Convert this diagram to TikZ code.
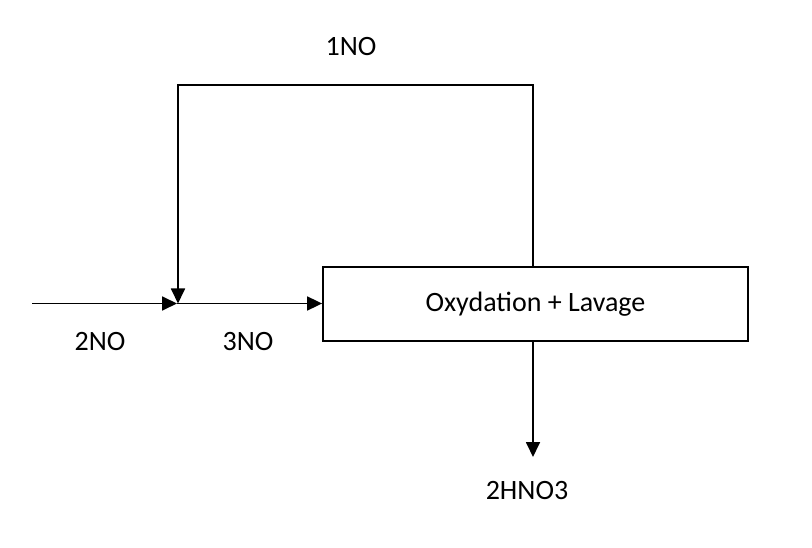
\documentclass[tikz,border=0pt]{standalone}
\usepackage{fontspec}
\setmainfont{Carlito}
\usetikzlibrary{arrows.meta}
\begin{document}
\begin{tikzpicture}[x=1pt,y=-1pt,
  flow/.style={line width=1.8pt,-{Triangle[length=15pt,width=14pt]}},
  lbl/.style={font=\fontsize{28}{32}\selectfont},
  box/.style={draw,line width=1.8pt,minimum width=425pt,minimum height=74pt,inner sep=0pt,font=\fontsize{28}{32}\selectfont}]
\useasboundingbox (0,0) rectangle (812,548);
\node[box] (ox) at (535.5,304) {Oxydation + Lavage};
\coordinate (in) at (32,303.5);
\coordinate (j) at (177,303.5);
\coordinate (tr) at (533,85);
\coordinate (tl) at (178,85);
\coordinate (out) at (533,457);
\draw[flow] (in) -- (j);
\draw[flow] (j) -- (ox.west |- j);
\draw[flow] (ox.north -| tr) -- (tr) -- (tl) -- (tl |- j);
\draw[flow] (ox.south -| out) -- (out);
\node[lbl] (l1) at (351,47) {1NO};
\node[lbl] (l2) at (100,342) {2NO};
\node[lbl] (l3) at (248,342) {3NO};
\node[lbl] (l4) at (527,491) {2HNO3};
\end{tikzpicture}
\end{document}
